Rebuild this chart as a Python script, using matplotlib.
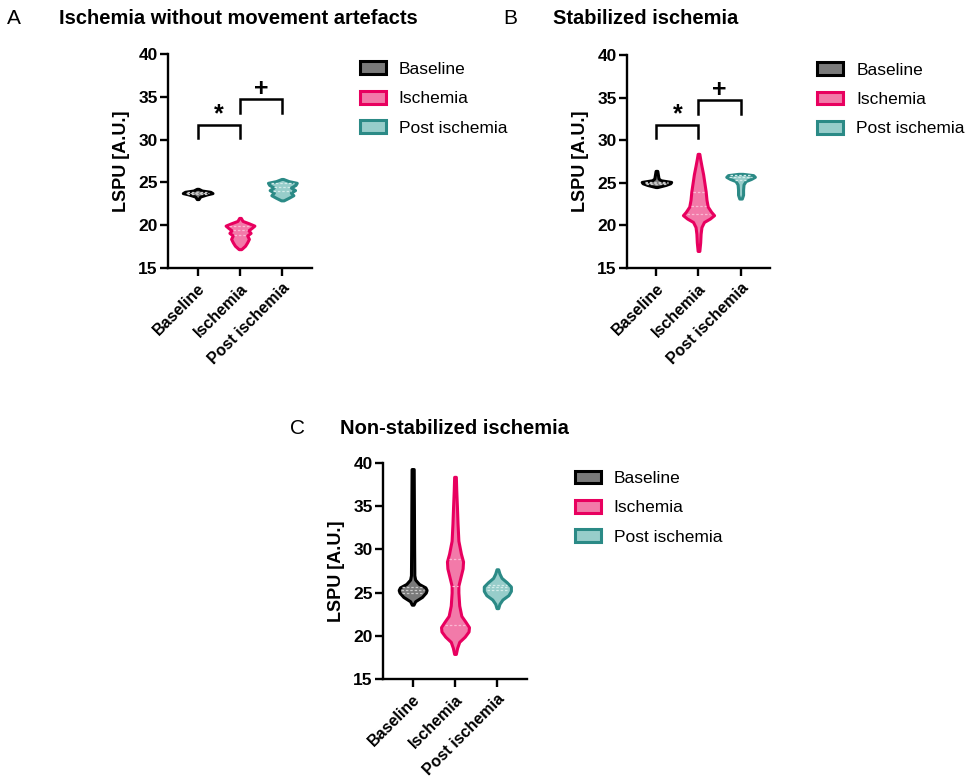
#!/usr/bin/env python3
"""Violin panels of LSPU per phase (baseline / ischemia / post ischemia)."""
import numpy as np
import matplotlib

matplotlib.use("Agg")
import matplotlib.pyplot as plt
from matplotlib.patches import Patch

plt.rcParams.update(
    {
        "font.family": ["Liberation Sans", "DejaVu Sans"],
        "axes.linewidth": 1.7,
        "xtick.major.width": 1.7,
        "ytick.major.width": 1.7,
        "xtick.major.size": 5.5,
        "ytick.major.size": 5.5,
    }
)

groups = ["Baseline", "Ischemia", "Post ischemia"]
edge_colors = ["#000000", "#e8005f", "#2b8a86"]
fill_colors = ["#7a7a7a", "#f27aa9", "#97cdca"]
quart_colors = ["#c8c8c8", "#fbb9d3", "#d2ebe9"]

# violin outlines: value levels and half widths (category units)
base_A_y = [23.05, 23.35, 23.6, 23.75, 23.9, 24.05, 24.25]
base_A_w = [0.02, 0.06, 0.22, 0.35, 0.30, 0.10, 0.02]
isch_A_y = [17.2, 17.6, 18.0, 18.4, 18.8, 19.1, 19.4, 19.7, 19.95, 20.2, 20.5, 20.85]
isch_A_w = [0.03, 0.12, 0.17, 0.21, 0.17, 0.25, 0.20, 0.28, 0.34, 0.22, 0.06, 0.02]
post_A_y = [22.9, 23.2, 23.5, 23.8, 24.1, 24.4, 24.7, 24.95, 25.15, 25.4]
post_A_w = [0.03, 0.15, 0.26, 0.20, 0.30, 0.20, 0.31, 0.34, 0.15, 0.02]

base_B_y = [24.5, 24.75, 24.95, 25.1, 25.3, 25.5, 25.8, 26.4]
base_B_w = [0.02, 0.22, 0.33, 0.35, 0.10, 0.05, 0.04, 0.02]
isch_B_y = [17.0, 18.0, 19.0, 19.8, 20.4, 20.8, 21.2, 21.6, 22.2, 23.0, 24.0, 25.0, 26.0, 27.0, 27.8, 28.4]
isch_B_w = [0.02, 0.04, 0.05, 0.07, 0.13, 0.27, 0.37, 0.30, 0.22, 0.19, 0.17, 0.14, 0.11, 0.07, 0.04, 0.02]
post_B_y = [23.15, 23.6, 24.2, 24.8, 25.2, 25.45, 25.7, 25.9, 26.05]
post_B_w = [0.03, 0.06, 0.06, 0.07, 0.12, 0.25, 0.34, 0.30, 0.05]

base_C_y = [23.6, 24.0, 24.5, 25.0, 25.3, 25.6, 26.0, 26.5, 27.0, 30.0, 35.0, 39.3]
base_C_w = [0.02, 0.06, 0.22, 0.31, 0.33, 0.30, 0.15, 0.06, 0.04, 0.035, 0.03, 0.025]
isch_C_y = [17.9, 18.6, 19.3, 19.9, 20.5, 21.0, 21.6, 22.3, 23.5, 25.0, 25.8, 26.8, 27.8, 28.6,
            29.5, 31.0, 33.0, 35.0, 36.8, 38.4]
isch_C_w = [0.02, 0.05, 0.10, 0.23, 0.32, 0.33, 0.25, 0.15, 0.10, 0.08, 0.08, 0.13, 0.18, 0.19,
            0.14, 0.08, 0.06, 0.045, 0.03, 0.02]
post_C_y = [23.2, 23.7, 24.2, 24.7, 25.2, 25.7, 26.2, 26.7, 27.2, 27.7]
post_C_w = [0.02, 0.05, 0.12, 0.26, 0.32, 0.32, 0.22, 0.10, 0.05, 0.02]

# quartiles (q1, median, q3)
quart_A = [[23.7, 23.8, 23.9], [18.8, 19.4, 19.9], [24.0, 24.5, 24.9]]
quart_B = [[24.9, 25.0, 25.1], [21.3, 22.3, 23.9], [25.3, 25.7, 25.9]]
quart_C = [[25.0, 25.3, 25.6], [21.3, 25.8, 28.9], [25.3, 25.6, 25.9]]

yticks = [15, 20, 25, 30, 35, 40]

W, H = 970, 780


def rect(left, top, right, bottom):
    return [left / W, 1 - bottom / H, (right - left) / W, (bottom - top) / H]


def draw_violin(ax, pos, ys, ws, quarts, i):
    ys = np.asarray(ys)
    ws = np.asarray(ws)
    ax.fill_betweenx(ys, pos - ws, pos + ws, facecolor=fill_colors[i],
                     edgecolor=edge_colors[i], linewidth=2.2, zorder=2)
    for q in quarts:
        hw = np.interp(q, ys, ws) * 0.8
        ax.plot([pos - hw, pos + hw], [q, q], color=quart_colors[i], lw=0.9,
                ls=(0, (2, 1.5)), zorder=3)


def bracket(ax, x0, x1, top, leg0, leg1, sym, sym_y, size):
    ax.plot([x0, x0, x1, x1], [leg0, top, top, leg1], color="black", lw=1.8,
            solid_joinstyle="miter", zorder=4)
    ax.text((x0 + x1) / 2, sym_y, sym, ha="center", va="center", fontsize=size,
            fontweight="bold")


def panel(fig, r, shapes, quarts, letter, title, letter_xy, title_x, brackets=True):
    ax = fig.add_axes(r)
    for i, (ys, ws) in enumerate(shapes):
        draw_violin(ax, i, ys, ws, quarts[i], i)
    ax.set_xlim(-0.7, 2.7)
    ax.set_ylim(15, 40)
    ax.set_yticks(yticks)
    ax.set_xticks(range(len(groups)))
    ax.set_xticklabels(groups, rotation=45, ha="right", rotation_mode="anchor",
                       fontsize=11.5, fontweight="bold")
    for lab in ax.get_yticklabels():
        lab.set_fontweight("bold")
        lab.set_fontsize(12.5)
    ax.tick_params(axis="y", pad=2)
    ax.spines[["top", "right"]].set_visible(False)
    ax.set_ylabel("LSPU [A.U.]", fontsize=13, fontweight="bold", labelpad=6)
    if brackets:
        bracket(ax, 0, 1, 31.75, 30.2, 30.2, "*", 33.0, 18)
        bracket(ax, 1, 2, 34.7, 33.1, 33.1, "+", 35.9, 18)
    handles = [Patch(facecolor=fill_colors[i], edgecolor=edge_colors[i], linewidth=2.2,
                     label=g) for i, g in enumerate(groups)]
    ax.legend(handles=handles, loc="upper left", bbox_to_anchor=(1.33, 0.965),
              frameon=False, fontsize=12.5, handlelength=1.5, handleheight=0.75,
              labelspacing=0.8, handletextpad=0.75, borderaxespad=0, borderpad=0)
    fig.text(letter_xy[0] / W, 1 - letter_xy[1] / H, letter, fontsize=15, va="center")
    fig.text(title_x / W, 1 - letter_xy[1] / H, title, fontsize=14.5, fontweight="bold",
             va="center")
    return ax


fig = plt.figure(figsize=(W / 100, H / 100), dpi=100)

panel(fig, rect(168, 54, 312, 268),
      [(base_A_y, base_A_w), (isch_A_y, isch_A_w), (post_A_y, post_A_w)],
      quart_A, "A", "Ischemia without movement artefacts", (7, 19), 59)
panel(fig, rect(627, 55, 770, 268),
      [(base_B_y, base_B_w), (isch_B_y, isch_B_w), (post_B_y, post_B_w)],
      quart_B, "B", "Stabilized ischemia", (503, 19), 553)
panel(fig, rect(383, 463, 527, 679),
      [(base_C_y, base_C_w), (isch_C_y, isch_C_w), (post_C_y, post_C_w)],
      quart_C, "C", "Non-stabilized ischemia", (290, 428), 340, brackets=False)

fig.savefig("out.png", dpi=100, facecolor="white")
plt.close(fig)
